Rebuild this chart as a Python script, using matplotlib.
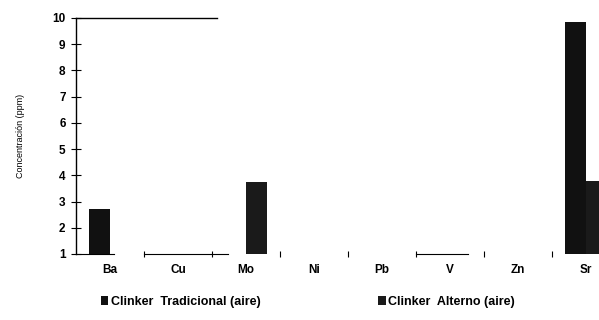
import matplotlib

matplotlib.use("Agg")

import matplotlib.pyplot as plt
import numpy as np

plt.rcParams["font.family"] = ["Liberation Sans", "DejaVu Sans"]
plt.rcParams["font.weight"] = "bold"

# ---------------------------------------------------------------------------
# Data (values below 1 ppm are off-scale)
# ---------------------------------------------------------------------------
elements = ["Ba", "Cu", "Mo", "Ni", "Pb", "V", "Zn", "Sr"]
tradicional = [2.7, 0.0, 0.0, 0.0, 0.0, 0.0, 0.0, 9.85]
alterno = [0.0, 0.0, 3.75, 0.0, 0.0, 0.0, 0.0, 3.8]
y_ticks = [1, 2, 3, 4, 5, 6, 7, 8, 9, 10]

# ---------------------------------------------------------------------------
# Plot
# ---------------------------------------------------------------------------
W, H = 599, 320
fig = plt.figure(figsize=(W / 100, H / 100), dpi=100)
# axis extends past the right edge of the scan (Sr group is cut off)
ax = fig.add_axes([76 / W, 66 / H, 544 / W, 236 / H])

x = np.arange(len(elements))
bw = 0.31
ax.bar(x - bw / 2, tradicional, bw, color="#111111", label="Clinker  Tradicional (aire)")
ax.bar(x + bw / 2, alterno, bw, color="#1a1a1a", label="Clinker  Alterno (aire)")

ax.set_xlim(-0.5, len(elements) - 0.5)
ax.set_ylim(1, 10)
ax.set_yticks(y_ticks)
ax.set_xticks(x)
ax.set_xticklabels(elements)
ax.set_xticks(np.arange(len(elements)) + 0.5, minor=True)

ax.tick_params(axis="y", direction="inout", length=7, width=0.8, labelsize=8.5, pad=4)
ax.tick_params(axis="x", which="major", length=0, labelsize=8.5, pad=7)
ax.tick_params(axis="x", which="minor", direction="inout", length=4, width=0.8)

for side in ("top", "right", "bottom"):
    ax.spines[side].set_visible(False)
ax.spines["left"].set_linewidth(1.0)

# fragments of the scanned frame lines
ax.axhline(10, xmin=0.0, xmax=0.26, color="black", lw=1.0, clip_on=False)
ax.axhline(1, xmin=0.125, xmax=0.28, color="black", lw=0.8, clip_on=False)
ax.axhline(1, xmin=0.625, xmax=0.72, color="black", lw=0.8, clip_on=False)
ax.axhline(1, xmin=0.0, xmax=0.07, color="black", lw=0.8, clip_on=False)

ax.set_ylabel("Concentración (ppm)", fontsize=6.5, labelpad=20)

ax.legend(
    loc="upper left",
    bbox_to_anchor=(0.025, -0.13),
    ncol=2,
    frameon=False,
    fontsize=9,
    handlelength=0.6,
    handleheight=0.8,
    handletextpad=0.2,
    columnspacing=9.4,
)

fig.savefig("out.png", dpi=100)
